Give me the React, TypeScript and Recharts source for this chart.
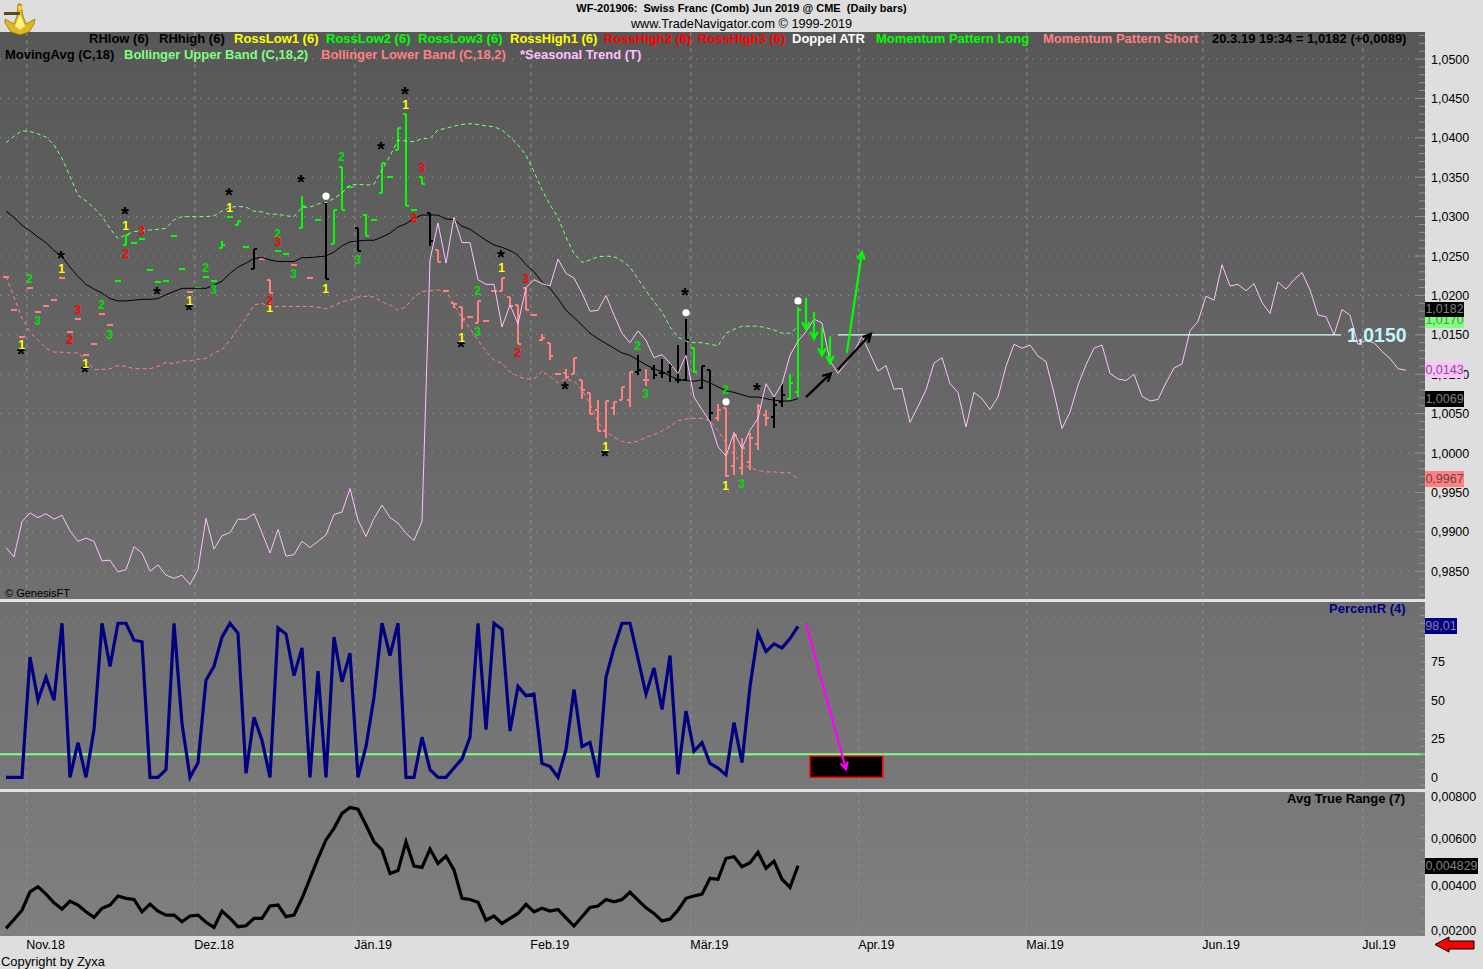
import React from 'react';
import {
  ComposedChart, Line, Bar, Scatter, XAxis, YAxis, CartesianGrid, ReferenceLine, ReferenceArea,
} from 'recharts';

const FONT = '"Liberation Sans", Arial, sans-serif';

const seasonal = [
  0.9880, 0.9868, 0.9913, 0.9924, 0.9918, 0.9923, 0.9916, 0.9921, 0.9901, 0.9888,
  0.9892, 0.9888, 0.9863, 0.9864, 0.9849, 0.9852, 0.9881, 0.9873, 0.9850, 0.9858,
  0.9845, 0.9841, 0.9845, 0.9833, 0.9852, 0.9917, 0.9878, 0.9895, 0.9899, 0.9916,
  0.9916, 0.9923, 0.9899, 0.9873, 0.9903, 0.9869, 0.9871, 0.9888, 0.9880, 0.9888,
  0.9896, 0.9922, 0.9925, 0.9955, 0.9915, 0.9894, 0.9917, 0.9934, 0.9918, 0.9911,
  0.9898, 0.9889, 0.9913, 1.0245, 1.0292, 1.0241, 1.0299, 1.0267, 1.0267, 1.0220,
  1.0214, 1.0214, 1.0160, 1.0188, 1.0164, 1.0210, 1.0220, 1.0215, 1.0212, 1.0246,
  1.0228, 1.0222, 1.0203, 1.0180, 1.0181, 1.0200, 1.0175, 1.0152, 1.0140, 1.0155,
  1.0143, 1.0121, 1.0125, 1.0114, 1.0101, 1.0124, 1.0071, 1.0055, 1.0040, 1.0008,
  0.9996, 1.0026, 1.0006, 1.0029, 1.0044, 1.0088, 1.0071, 1.0088, 1.0124, 1.0142,
  1.0154, 1.0170, 1.0165, 1.0117, 1.0101, 1.0114, 1.0129, 1.0148, 1.0126, 1.0104,
  1.0111, 1.0081, 1.0082, 1.0039, 1.0059, 1.0080, 1.0114, 1.0121, 1.0088, 1.0077,
  1.0033, 1.0077, 1.0069, 1.0055, 1.0071, 1.0110, 1.0138, 1.0133, 1.0137, 1.0123,
  1.0116, 1.0076, 1.0031, 1.0052, 1.0086, 1.0112, 1.0133, 1.0137, 1.0101, 1.0094,
  1.0092, 1.0100, 1.0072, 1.0066, 1.0068, 1.0089, 1.0108, 1.0113, 1.0155, 1.0167,
  1.0199, 1.0194, 1.0239, 1.0212, 1.0214, 1.0206, 1.0215, 1.0191, 1.0177, 1.0217,
  1.0208, 1.0220, 1.0229, 1.0207, 1.0175, 1.0173, 1.0150, 1.0182, 1.0175, 1.0138,
  1.0143, 1.0140, 1.0129, 1.0120, 1.0107, 1.0105,
];

const movingAvg = [
  1.0307, 1.0299, 1.0289, 1.0282, 1.0274, 1.0267, 1.0257, 1.0249, 1.0236, 1.0224,
  1.0214, 1.0208, 1.0203, 1.0196, 1.0193, 1.0193, 1.0194, 1.0195, 1.0195, 1.0196,
  1.0201, 1.0205, 1.0209, 1.0209, 1.0209, 1.0209, 1.0213, 1.0218, 1.0228, 1.0236,
  1.0241, 1.0247, 1.0248, 1.0245, 1.0243, 1.0243, 1.0243, 1.0248, 1.0248, 1.0249,
  1.0250, 1.0255, 1.0263, 1.0268, 1.0269, 1.0270, 1.0270, 1.0274, 1.0279, 1.0287,
  1.0291, 1.0298, 1.0302, 1.0302, 1.0302, 1.0297, 1.0296, 1.0288, 1.0284, 1.0277,
  1.0270, 1.0264, 1.0261, 1.0257, 1.0251, 1.0239, 1.0230, 1.0217, 1.0209, 1.0196,
  1.0181, 1.0172, 1.0162, 1.0152, 1.0145, 1.0139, 1.0133, 1.0127, 1.0124, 1.0118,
  1.0112, 1.0107, 1.0103, 1.0098, 1.0093, 1.0092, 1.0091, 1.0093, 1.0089, 1.0084,
  1.0079, 1.0077, 1.0074, 1.0071, 1.0071, 1.0069, 1.0067, 1.0066, 1.0066, 1.0069,
];

const upperBand = [
  1.0394, 1.0402, 1.0409, 1.0408, 1.0405, 1.0401, 1.0391, 1.0374, 1.0351, 1.0327,
  1.0320, 1.0311, 1.0300, 1.0285, 1.0272, 1.0277, 1.0281, 1.0282, 1.0283, 1.0284,
  1.0285, 1.0296, 1.0300, 1.0300, 1.0300, 1.0300, 1.0301, 1.0307, 1.0312, 1.0313,
  1.0312, 1.0307, 1.0306, 1.0303, 1.0303, 1.0301, 1.0300, 1.0312, 1.0312, 1.0316,
  1.0318, 1.0323, 1.0330, 1.0340, 1.0341, 1.0340, 1.0341, 1.0359, 1.0377, 1.0397,
  1.0396, 1.0395, 1.0399, 1.0399, 1.0410, 1.0412, 1.0415, 1.0417, 1.0418, 1.0417,
  1.0415, 1.0414, 1.0410, 1.0401, 1.0391, 1.0378, 1.0357, 1.0334, 1.0315, 1.0299,
  1.0274, 1.0253, 1.0242, 1.0245, 1.0249, 1.0250, 1.0249, 1.0244, 1.0236, 1.0221,
  1.0206, 1.0192, 1.0179, 1.0160, 1.0147, 1.0142, 1.0140, 1.0140, 1.0138, 1.0136,
  1.0152, 1.0157, 1.0161, 1.0161, 1.0161, 1.0159, 1.0156, 1.0152, 1.0152, 1.0160,
];

const lowerBand = [
  1.0224, 1.0198, 1.0171, 1.0154, 1.0143, 1.0133, 1.0128, 1.0128, 1.0127, 1.0127,
  1.0118, 1.0106, 1.0106, 1.0107, 1.0111, 1.0110, 1.0107, 1.0107, 1.0107, 1.0110,
  1.0115, 1.0113, 1.0117, 1.0117, 1.0119, 1.0120, 1.0127, 1.0131, 1.0143, 1.0158,
  1.0171, 1.0188, 1.0190, 1.0185, 1.0186, 1.0186, 1.0186, 1.0186, 1.0186, 1.0185,
  1.0183, 1.0187, 1.0192, 1.0194, 1.0198, 1.0199, 1.0198, 1.0192, 1.0188, 1.0181,
  1.0186, 1.0198, 1.0205, 1.0206, 1.0207, 1.0206, 1.0188, 1.0171, 1.0158, 1.0143,
  1.0129, 1.0118, 1.0114, 1.0103, 1.0097, 1.0094, 1.0094, 1.0104, 1.0097, 1.0089,
  1.0094, 1.0091, 1.0080, 1.0063, 1.0039, 1.0027, 1.0020, 1.0015, 1.0013, 1.0015,
  1.0020, 1.0023, 1.0028, 1.0034, 1.0041, 1.0043, 1.0044, 1.0044, 1.0041, 1.0028,
  1.0013, 0.9997, 0.9987, 0.9981, 0.9978, 0.9976, 0.9976, 0.9975, 0.9975, 0.9967,
];

const barOpen = [
  1.0224, 1.0181, 1.0147, 1.0209, 1.0179, 1.0187, 1.0194, 1.0222, 1.0154, 1.0170,
  1.0124, 1.0138, 1.0176, 1.0162, 1.0218, 1.0264, 1.0266, 1.0271, 1.0232, 1.0217,
  1.0218, 1.0276, 1.0234, 1.0204, 1.0210, 1.0223, 1.0218, 1.0260, 1.0299, 1.0290,
  1.0262, 1.0234, 1.0246, 1.0219, 1.0257, 1.0253, 1.0239, 1.0285, 1.0222, 1.0296,
  1.0317, 1.0265, 1.0363, 1.0337, 1.0285, 1.0302, 1.0296, 1.0330, 1.0350, 1.0385,
  1.0430, 1.0308, 1.0350, 1.0304, 1.0258, 1.0206, 1.0190, 1.0185, 1.0172, 1.0165,
  1.0168, 1.0206, 1.0205, 1.0198, 1.0188, 1.0209, 1.0175, 1.0143, 1.0140, 1.0100,
  1.0102, 1.0100, 1.0093, 1.0076, 1.0055, 1.0028, 1.0057, 1.0067, 1.0067, 1.0103,
  1.0093, 1.0107, 1.0101, 1.0103, 1.0093, 1.0093, 1.0133, 1.0082, 1.0105, 1.0045,
  1.0057, 0.9984, 0.9981, 0.9988, 1.0011, 1.0048, 1.0046, 1.0065, 1.0069, 1.0078,
];

const barHigh = [
  1.0225, 1.0182, 1.0148, 1.0210, 1.0180, 1.0188, 1.0195, 1.0223, 1.0155, 1.0171,
  1.0125, 1.0139, 1.0177, 1.0163, 1.0219, 1.0277, 1.0267, 1.0272, 1.0233, 1.0218,
  1.0219, 1.0277, 1.0235, 1.0205, 1.0211, 1.0224, 1.0219, 1.0269, 1.0300, 1.0295,
  1.0263, 1.0259, 1.0247, 1.0219, 1.0258, 1.0254, 1.0240, 1.0326, 1.0223, 1.0297,
  1.0317, 1.0309, 1.0363, 1.0338, 1.0285, 1.0303, 1.0297, 1.0368, 1.0351, 1.0412,
  1.0430, 1.0309, 1.0350, 1.0304, 1.0258, 1.0207, 1.0190, 1.0185, 1.0173, 1.0193,
  1.0169, 1.0207, 1.0222, 1.0198, 1.0188, 1.0209, 1.0176, 1.0151, 1.0140, 1.0101,
  1.0106, 1.0121, 1.0093, 1.0076, 1.0067, 1.0066, 1.0065, 1.0084, 1.0103, 1.0124,
  1.0106, 1.0112, 1.0119, 1.0113, 1.0137, 1.0170, 1.0133, 1.0111, 1.0105, 1.0062,
  1.0057, 1.0023, 1.0019, 1.0026, 1.0062, 1.0055, 1.0071, 1.0088, 1.0100, 1.0185,
];

const barLow = [
  1.0222, 1.0180, 1.0146, 1.0208, 1.0178, 1.0186, 1.0193, 1.0221, 1.0153, 1.0169,
  1.0123, 1.0137, 1.0175, 1.0161, 1.0217, 1.0264, 1.0265, 1.0270, 1.0231, 1.0216,
  1.0217, 1.0275, 1.0233, 1.0203, 1.0209, 1.0222, 1.0217, 1.0260, 1.0298, 1.0290,
  1.0261, 1.0234, 1.0245, 1.0203, 1.0256, 1.0252, 1.0238, 1.0285, 1.0221, 1.0295,
  1.0221, 1.0265, 1.0309, 1.0336, 1.0257, 1.0276, 1.0295, 1.0330, 1.0349, 1.0385,
  1.0314, 1.0307, 1.0342, 1.0263, 1.0243, 1.0205, 1.0184, 1.0157, 1.0171, 1.0165,
  1.0167, 1.0205, 1.0205, 1.0186, 1.0138, 1.0182, 1.0174, 1.0142, 1.0118, 1.0099,
  1.0094, 1.0100, 1.0069, 1.0050, 1.0028, 1.0019, 1.0048, 1.0067, 1.0059, 1.0099,
  1.0085, 1.0094, 1.0095, 1.0090, 1.0089, 1.0091, 1.0102, 1.0081, 1.0041, 1.0041,
  0.9969, 0.9972, 0.9972, 0.9978, 1.0004, 1.0034, 1.0032, 1.0059, 1.0068, 1.0071,
];

const barClose = [
  1.0224, 1.0181, 1.0147, 1.0209, 1.0179, 1.0187, 1.0194, 1.0222, 1.0154, 1.0170,
  1.0124, 1.0138, 1.0176, 1.0162, 1.0218, 1.0277, 1.0266, 1.0271, 1.0232, 1.0217,
  1.0218, 1.0276, 1.0234, 1.0204, 1.0210, 1.0223, 1.0218, 1.0264, 1.0299, 1.0295,
  1.0262, 1.0259, 1.0246, 1.0203, 1.0257, 1.0253, 1.0239, 1.0313, 1.0222, 1.0296,
  1.0221, 1.0309, 1.0309, 1.0337, 1.0257, 1.0276, 1.0296, 1.0368, 1.0350, 1.0412,
  1.0314, 1.0308, 1.0342, 1.0269, 1.0243, 1.0206, 1.0189, 1.0170, 1.0172, 1.0193,
  1.0168, 1.0206, 1.0222, 1.0186, 1.0138, 1.0182, 1.0175, 1.0146, 1.0123, 1.0100,
  1.0096, 1.0121, 1.0080, 1.0050, 1.0028, 1.0066, 1.0065, 1.0084, 1.0103, 1.0105,
  1.0093, 1.0099, 1.0102, 1.0110, 1.0093, 1.0143, 1.0103, 1.0111, 1.0051, 1.0054,
  0.9971, 1.0023, 1.0006, 1.0019, 1.0060, 1.0044, 1.0061, 1.0074, 1.0089, 1.0182,
];

// s = Momentum Pattern Short, l = Momentum Pattern Long, n = neither
const barPattern = (
  'ssssssssssssss' + 'lllllllll' + 's' + 'lllllll' + 'nss' + 'll' + 'slsl' + 'n' + 'lll' + 'n' +
  'llllllll' + 'n' + 'sssssssssssssssssssssssss' + 'n' + 's' + 'nnnnn' + 'l' + 'nn' + 'sssssss' + 'nn' + 'll'
).split('');

const percentR = [
  0, 0, 0, 78, 50, 65, 50, 100, 0, 22.5,
  0, 31, 100, 72, 100, 100, 89, 88, 0, 0,
  5, 100, 35, 0, 9.5, 63, 72, 91, 100, 93.5,
  2.6, 39, 24, 0, 97, 93, 66, 84, 0, 69,
  0, 91, 62, 80.5, 0, 20, 52, 100, 79, 100,
  0, 0, 26, 5, 0, 0, 6, 12, 26, 100,
  31, 100, 96, 30, 59, 53, 54, 9, 7, 0,
  18, 57, 20, 22.5, 0, 65, 84, 100, 100, 77,
  54, 71, 44, 79, 2, 43, 17, 22.5, 9, 6,
  1.5, 35.5, 9.5, 59, 93.5, 81.6, 86.6, 84, 90, 98.01,
];

const avgTrueRange = [
  0.00214, 0.00252, 0.00292, 0.00371, 0.00393, 0.00361, 0.00324, 0.00297, 0.00331, 0.00314,
  0.00285, 0.00261, 0.00300, 0.00314, 0.00353, 0.00343, 0.00338, 0.00285, 0.00318, 0.00288,
  0.00271, 0.00271, 0.00242, 0.00267, 0.00271, 0.00240, 0.00218, 0.00288, 0.00257, 0.00221,
  0.00225, 0.00257, 0.00257, 0.00310, 0.00314, 0.00264, 0.00271, 0.00343, 0.00429, 0.00515,
  0.00594, 0.00644, 0.00708, 0.00734, 0.00726, 0.00658, 0.00586, 0.00551, 0.00450, 0.00462,
  0.00586, 0.00482, 0.00476, 0.00555, 0.00493, 0.00525, 0.00465, 0.00343, 0.00338, 0.00326,
  0.00249, 0.00267, 0.00235, 0.00257, 0.00278, 0.00317, 0.00285, 0.00300, 0.00288, 0.00295,
  0.00259, 0.00224, 0.00264, 0.00304, 0.00310, 0.00338, 0.00328, 0.00338, 0.00369, 0.00335,
  0.00302, 0.00278, 0.00246, 0.00254, 0.00292, 0.00343, 0.00353, 0.00361, 0.00429, 0.00425,
  0.00515, 0.00522, 0.00479, 0.00496, 0.00541, 0.00472, 0.00503, 0.00425, 0.00390, 0.004829,
];

const starMarks = [
  { i: 15, v: 1.0307 }, { i: 7, v: 1.0251 }, { i: 19, v: 1.0205 }, { i: 23, v: 1.0185 },
  { i: 28, v: 1.0330 }, { i: 37, v: 1.0347 }, { i: 47, v: 1.0389 }, { i: 50, v: 1.0459 },
  { i: 2, v: 1.0129 }, { i: 10, v: 1.0106 }, { i: 62, v: 1.0252 }, { i: 57, v: 1.0138 },
  { i: 70, v: 1.0085 }, { i: 75, v: 1.0000 }, { i: 85, v: 1.0204 }, { i: 94, v: 1.0083 },
];
const rossLow1 = [
  { i: 15, v: 1.0289 }, { i: 7, v: 1.0234 }, { i: 23, v: 1.0193 }, { i: 28, v: 1.0312 },
  { i: 40, v: 1.0209 }, { i: 50, v: 1.0442 }, { i: 2, v: 1.0138 }, { i: 10, v: 1.0114 },
  { i: 33, v: 1.0185 }, { i: 62, v: 1.0235 }, { i: 57, v: 1.0146 }, { i: 75, v: 1.0008 },
  { i: 90, v: 0.9959 },
];
const rossLow2 = [
  { i: 3, v: 1.0221 }, { i: 12, v: 1.0188 }, { i: 25, v: 1.0235 }, { i: 34, v: 1.0278 },
  { i: 42, v: 1.0376 }, { i: 59, v: 1.0206 }, { i: 79, v: 1.0136 }, { i: 90, v: 1.0081 },
];
const rossLow3 = [
  { i: 4, v: 1.0168 }, { i: 13, v: 1.0151 }, { i: 26, v: 1.0207 }, { i: 36, v: 1.0228 },
  { i: 44, v: 1.0246 }, { i: 59, v: 1.0154 }, { i: 80, v: 1.0075 }, { i: 92, v: 0.9961 },
];
const rossHigh2 = [
  { i: 15, v: 1.0253 }, { i: 8, v: 1.0144 }, { i: 33, v: 1.0194 }, { i: 51, v: 1.0299 }, { i: 64, v: 1.0127 },
];
const rossHigh3 = [
  { i: 17, v: 1.0282 }, { i: 9, v: 1.0182 }, { i: 34, v: 1.0268 }, { i: 52, v: 1.0362 }, { i: 65, v: 1.0221 },
];
const doppelAtr = [
  { i: 40, v: 1.0326 }, { i: 85, v: 1.0178 }, { i: 90, v: 1.0065 }, { i: 99, v: 1.0193 },
];

const priceLevel = [{ x: 104, y: 1.015 }, { x: 166.9, y: 1.015 }];
const greenUpArrow = [{ x: 105.1, y: 1.0127 }, { x: 107, y: 1.0255 }];
const blackArrows = [
  [{ x: 100, y: 1.0071 }, { x: 103.1, y: 1.0101 }],
  [{ x: 104, y: 1.0106 }, { x: 108.1, y: 1.0151 }],
];
const greenDownArrows = [
  [{ x: 100, y: 1.0197 }, { x: 100, y: 1.0157 }],
  [{ x: 101, y: 1.0179 }, { x: 101, y: 1.0145 }],
  [{ x: 102, y: 1.016 }, { x: 102, y: 1.0124 }],
  [{ x: 103, y: 1.0148 }, { x: 103, y: 1.0114 }],
];
const magentaArrow = [{ x: 100, y: 100 }, { x: 105, y: 5.2 }];
const targetBox = { x1: 100.5, x2: 109.6, y1: 0, y2: 13.8 };
const percentRTrigger = 15;

const monthTicks = [2.6, 23.6, 43.6, 65.6, 85.6, 106.6, 127.6, 149.6, 169.6];
const monthLabels = ['Nov.18', 'Dez.18', 'Jän.19', 'Feb.19', 'Mär.19', 'Apr.19', 'Mai.19', 'Jun.19', 'Jul.19'];

const priceMajor = [1.05, 1.045, 1.04, 1.035, 1.03, 1.025, 1.02, 1.015, 1.01, 1.005, 1.0, 0.995, 0.99, 0.985];
const priceMinor = [
  1.053, 1.052, 1.051, 1.049, 1.048, 1.047, 1.046, 1.044, 1.043, 1.042, 1.041, 1.039, 1.038, 1.037, 1.036,
  1.034, 1.033, 1.032, 1.031, 1.029, 1.028, 1.027, 1.026, 1.024, 1.023, 1.022, 1.021, 1.019, 1.018, 1.017, 1.016,
  1.014, 1.013, 1.012, 1.011, 1.009, 1.008, 1.007, 1.006, 1.004, 1.003, 1.002, 1.001, 0.999, 0.998, 0.997, 0.996,
  0.994, 0.993, 0.992, 0.991, 0.989, 0.988, 0.987, 0.986, 0.984, 0.983, 0.982,
];
const pctMajor = [100, 75, 50, 25, 0];
const pctLabels = [75, 50, 25, 0];
const pctMinor = [110, 105, 95, 90, 85, 80, 70, 65, 60, 55, 45, 40, 35, 30, 20, 15, 10, 5, -5];
const atrMajor = [0.008, 0.006, 0.004, 0.002];
const atrMinor = [0.0075, 0.007, 0.0065, 0.0055, 0.005, 0.0045, 0.0035, 0.003, 0.0025];

const legendRow1 = [
  { text: 'RHlow (6)', left: 89, color: '#000000' },
  { text: 'RHhigh (6)', left: 159, color: '#000000' },
  { text: 'RossLow1 (6)', left: 234, color: '#ffff00' },
  { text: 'RossLow2 (6)', left: 326, color: '#00ff00' },
  { text: 'RossLow3 (6)', left: 418, color: '#00ff00' },
  { text: 'RossHigh1 (6)', left: 510, color: '#ffff00' },
  { text: 'RossHigh2 (6)', left: 604, color: '#ff0000' },
  { text: 'RossHigh3 (6)', left: 698, color: '#ff0000' },
  { text: 'Doppel ATR', left: 792, color: '#ffffff' },
  { text: 'Momentum Pattern Long', left: 876, color: '#00ff00' },
  { text: 'Momentum Pattern Short', left: 1043, color: '#ff8080' },
  { text: '20.3.19 19:34 = 1,0182 (+0,0089)', left: 1212, color: '#000000' },
];
const legendRow2 = [
  { text: 'MovingAvg (C,18)', left: 5, color: '#000000' },
  { text: 'Bollinger Upper Band (C,18,2)', left: 124, color: '#80ff80' },
  { text: 'Bollinger Lower Band (C,18,2)', left: 321, color: '#ff8080' },
  { text: '*Seasonal Trend (T)', left: 520, color: '#ffc0ff' },
];
const valueTags = [
  { text: '1,0170', top: 313, h: 15, w: 39, bg: '#80ff80', fg: '#509050' },
  { text: '1,0182', top: 302, h: 15, w: 39, bg: '#000000', fg: '#808080' },
  { text: '0,0143', top: 362, h: 16, w: 39, bg: '#ffc0ff', fg: '#706070' },
  { text: '1,0069', top: 391, h: 16, w: 39, bg: '#000000', fg: '#808080' },
  { text: '0,9967', top: 471, h: 16, w: 39, bg: '#ff8080', fg: '#704040' },
  { text: '98,01', top: 618, h: 16, w: 32, bg: '#000080', fg: '#8080a8' },
  { text: '0,004829', top: 858, h: 16, w: 53, bg: '#000000', fg: '#808080' },
];

const rows = seasonal.map((s, i) => ({
  i,
  seasonal: s,
  ma: movingAvg[i],
  upper: upperBand[i],
  lower: lowerBand[i],
  open: barOpen[i],
  close: barClose[i],
  high: barHigh[i],
  low: barLow[i],
  range: i < barHigh.length ? [barLow[i], barHigh[i]] : undefined,
  pattern: barPattern[i],
  pct: percentR[i],
  atr: avgTrueRange[i],
}));

const X_DOMAIN: [number, number] = [-0.75, 177.375];
const PATTERN_COLOR: Record<string, string> = { s: '#ff8080', l: '#00ff00', n: '#000000' };
const CHART_W = 1483;
const AXIS_W = 58;

function OhlcShape(props: any) {
  const { x, y, width, height, payload } = props;
  if (!payload || !payload.range || !Number.isFinite(y)) return null;
  const cx = Math.round(x + width / 2);
  const k = height / (payload.high - payload.low);
  const py = (v: number) => y + (payload.high - v) * k;
  const color = PATTERN_COLOR[payload.pattern];
  return (
    <g stroke={color} strokeWidth={2} fill="none" shapeRendering="crispEdges">
      <line x1={cx} x2={cx} y1={y} y2={y + height} />
      <line x1={cx - 3} x2={cx} y1={py(payload.open)} y2={py(payload.open)} />
      <line x1={cx} x2={cx + 3} y1={py(payload.close)} y2={py(payload.close)} />
    </g>
  );
}

const glyph = (text: string, color: string) => (p: any) => (
  <text x={p.cx - 0.5} y={p.cy + 4.5} textAnchor="middle" fontFamily={FONT} fontSize={12} fontWeight="bold" fill={color}>{text}</text>
);
const StarGlyph = (p: any) => (
  <text x={p.cx - 1} y={p.cy + 9.5} textAnchor="middle" fontFamily={FONT} fontSize={20} fontWeight="bold" fill="#000000">*</text>
);
const DotGlyph = (p: any) => <circle cx={p.cx} cy={p.cy} r={3.6} fill="#ffffff" />;

const arrowShape = (color: string, w: number, head: number) => (p: any) => {
  const { x1, y1, x2, y2 } = p;
  const a = Math.atan2(y2 - y1, x2 - x1);
  const ax = x2 - head * Math.cos(a - 0.48);
  const ay = y2 - head * Math.sin(a - 0.48);
  const bx = x2 - head * Math.cos(a + 0.48);
  const by = y2 - head * Math.sin(a + 0.48);
  return (
    <g stroke={color} strokeWidth={w} fill="none">
      <line x1={x1} y1={y1} x2={x2} y2={y2} />
      <polyline points={`${ax},${ay} ${x2},${y2} ${bx},${by}`} strokeLinejoin="miter" />
    </g>
  );
};

const axisTick = (tickMajors: number[], labelled: number[], format: (v: number) => string, dy: (v: number) => number = () => 0, major = 10, minor = 6) => (p: any) => {
  const { x, y, payload } = p;
  const isMajor = tickMajors.includes(payload.value);
  return (
    <g>
      <line x1={x - (isMajor ? major : minor)} x2={x} y1={y} y2={y} stroke="#929292" strokeWidth={1} />
      {labelled.includes(payload.value) ? (
        <text x={x + 6} y={y + 4.5 + dy(payload.value)} fontFamily={FONT} fontSize={12.5} fill="#000000">{format(payload.value)}</text>
      ) : null}
    </g>
  );
};

const monthTick = (p: any) => {
  const idx = monthTicks.indexOf(p.payload.value);
  return (
    <text x={p.x - 0.5} y={p.y + 12.5} fontFamily={FONT} fontSize={12.5} fill="#000000">{monthLabels[idx]}</text>
  );
};

const comma = (digits: number) => (v: number) => v.toFixed(digits).replace('.', ',');

function PriceChart() {
  return (
    <ComposedChart width={CHART_W} height={566} data={rows} margin={{ top: 0, right: 0, bottom: 0, left: 0 }}>
      <XAxis dataKey="i" type="number" domain={X_DOMAIN} hide />
      <YAxis
        orientation="right" type="number" width={AXIS_W} domain={[0.9816, 1.05343]} allowDataOverflow
        ticks={[...priceMajor, ...priceMinor]} interval={0} tickSize={0} tickMargin={0} axisLine={false} tickLine={false}
        tick={axisTick(priceMajor, priceMajor, comma(4))}
      />
      <CartesianGrid horizontal vertical={false} horizontalValues={priceMajor} stroke="#999999" strokeDasharray="1 7" />
      <CartesianGrid horizontal={false} vertical verticalValues={monthTicks} stroke="#8f8f8f" strokeDasharray="4 4" />
      <Bar dataKey="range" barSize={7} shape={OhlcShape} isAnimationActive={false} />
      <Line dataKey="upper" stroke="#80ff80" strokeWidth={1} strokeDasharray="4 3" dot={false} isAnimationActive={false} />
      <Line dataKey="lower" stroke="#ff8080" strokeWidth={1} strokeDasharray="4 3" dot={false} isAnimationActive={false} />
      <Line dataKey="ma" stroke="#000000" strokeWidth={1} dot={false} isAnimationActive={false} />
      <Line dataKey="seasonal" stroke="#ffc0ff" strokeWidth={1} dot={false} isAnimationActive={false} />
      <Scatter data={starMarks} dataKey="v" shape={StarGlyph} isAnimationActive={false} />
      <Scatter data={rossLow1} dataKey="v" shape={glyph('1', '#ffff00')} isAnimationActive={false} />
      <Scatter data={rossLow2} dataKey="v" shape={glyph('2', '#00e000')} isAnimationActive={false} />
      <Scatter data={rossLow3} dataKey="v" shape={glyph('3', '#00e000')} isAnimationActive={false} />
      <Scatter data={rossHigh2} dataKey="v" shape={glyph('2', '#ff0000')} isAnimationActive={false} />
      <Scatter data={rossHigh3} dataKey="v" shape={glyph('3', '#ff0000')} isAnimationActive={false} />
      <Scatter data={doppelAtr} dataKey="v" shape={DotGlyph} isAnimationActive={false} />
      <ReferenceLine segment={priceLevel} stroke="#d0ffff" strokeWidth={1.2} />
      <ReferenceLine segment={greenUpArrow} shape={arrowShape('#00ff00', 2.2, 8)} />
      {blackArrows.map((seg, k) => (
        <ReferenceLine key={k} segment={seg} shape={arrowShape('#000000', 2.4, 9)} />
      ))}
      {greenDownArrows.map((seg, k) => (
        <ReferenceLine key={k} segment={seg} shape={arrowShape('#00ff00', 2.2, 8)} />
      ))}
    </ComposedChart>
  );
}

function PercentChart() {
  return (
    <ComposedChart width={CHART_W} height={187} data={rows} margin={{ top: 0, right: 0, bottom: 0, left: 0 }}>
      <XAxis dataKey="i" type="number" domain={X_DOMAIN} hide />
      <YAxis
        orientation="right" type="number" width={AXIS_W} domain={[-7.6, 113.8]} allowDataOverflow
        ticks={[...pctMajor, ...pctMinor]} interval={0} tickSize={0} tickMargin={0} axisLine={false} tickLine={false}
        tick={axisTick(pctMajor, pctLabels, (v) => String(v), () => 0, 5, 5)}
      />
      <CartesianGrid horizontal vertical={false} horizontalValues={pctMajor} stroke="#8c8c8c" strokeDasharray="1 7" />
      <CartesianGrid horizontal={false} vertical verticalValues={monthTicks} stroke="#8a8a8a" strokeDasharray="4 4" />
      <ReferenceLine y={percentRTrigger} stroke="#80ff80" strokeWidth={2} />
      <Line dataKey="pct" stroke="#000080" strokeWidth={3.2} dot={false} strokeLinejoin="miter" isAnimationActive={false} />
      <ReferenceArea {...targetBox} fill="#000000" fillOpacity={1} stroke="#ff0000" strokeWidth={1.5} />
      <ReferenceLine segment={magentaArrow} shape={arrowShape('#ff00ff', 2.2, 8)} />
    </ComposedChart>
  );
}

function AtrChart() {
  return (
    <ComposedChart width={CHART_W} height={184} data={rows} margin={{ top: 10, right: 0, bottom: 0, left: 0 }}>
      <XAxis
        dataKey="i" type="number" domain={X_DOMAIN} ticks={monthTicks} interval={0} height={30}
        axisLine={false} tickLine={false} tickSize={0} tickMargin={0} tick={monthTick}
      />
      <YAxis
        orientation="right" type="number" width={AXIS_W} domain={[0.00181, 0.008]} allowDataOverflow
        ticks={[...atrMajor, ...atrMinor]} interval={0} tickSize={0} tickMargin={0} axisLine={false} tickLine={false}
        tick={axisTick(atrMajor, atrMajor, comma(5), (v) => (v === 0.008 ? 4 : v === 0.002 ? -1.5 : 0), 5, 5)}
      />
      <CartesianGrid horizontal vertical={false} horizontalValues={atrMajor} stroke="#909090" strokeDasharray="1 7" />
      <CartesianGrid horizontal={false} vertical verticalValues={monthTicks} stroke="#8e8e8e" strokeDasharray="4 4" />
      <Line dataKey="atr" stroke="#000000" strokeWidth={3.2} dot={false} isAnimationActive={false} />
    </ComposedChart>
  );
}

const abs = (left: number, top: number): React.CSSProperties => ({ position: 'absolute', left, top, whiteSpace: 'pre', fontFamily: FONT });

function Logo() {
  return (
    <svg width={36} height={34} style={{ position: 'absolute', left: 2, top: 2 }}>
      <polygon points="16,2 19,2 20,8 21,14 24,22 33,17 32,22 27,30 18,33 9,30 3,21 3,17 12,22 15,14" fill="#e0b820" stroke="#8a6a08" strokeWidth={0.7} />
      <rect x={2} y={10} width={16} height={3} fill="#5a4a20" />
      <polygon points="18,12 23,24 18,28 13,24" fill="#fff080" />
      <circle cx={18} cy={6} r={2} fill="#f5d840" />
    </svg>
  );
}

export default function App() {
  return (
    <div style={{ position: 'absolute', left: 0, top: 0, width: 1483, height: 969, background: '#dedede', overflow: 'hidden' }}>
      <div style={{ position: 'absolute', left: 0, top: 32, width: 1425, height: 904, background: 'linear-gradient(#575757, #6f6f6f 62.5%, #7f7f7f)' }} />
      <div style={{ position: 'absolute', left: 0, top: 32 }}><PriceChart /></div>
      <div style={{ position: 'absolute', left: 0, top: 602 }}><PercentChart /></div>
      <div style={{ position: 'absolute', left: 0, top: 782 }}><AtrChart /></div>
      <div style={{ position: 'absolute', left: 0, top: 599, width: 1425, height: 3, background: '#e2e2e2' }} />
      <div style={{ position: 'absolute', left: 0, top: 789, width: 1425, height: 3, background: '#e2e2e2' }} />

      <Logo />
      <div style={{ ...abs(0, 2), width: 1483, textAlign: 'center', fontSize: 11, fontWeight: 'bold', color: '#000' }}>
        {'WF-201906:  Swiss Franc (Comb) Jun 2019 @ CME  (Daily bars)'}
      </div>
      <div style={{ ...abs(0, 17), width: 1483, textAlign: 'center', fontSize: 12.7, color: '#000' }}>
        {'www.TradeNavigator.com © 1999-2019'}
      </div>

      {legendRow1.map((l) => (
        <div key={l.text} style={{ ...abs(l.left, 31), fontSize: 13, fontWeight: 'bold', color: l.color }}>{l.text}</div>
      ))}
      {legendRow2.map((l) => (
        <div key={l.text} style={{ ...abs(l.left, 47), fontSize: 13, fontWeight: 'bold', color: l.color }}>{l.text}</div>
      ))}

      <div style={{ ...abs(1347, 324), fontSize: 19.5, fontWeight: 'bold', color: '#c0f4ff' }}>1,0150</div>
      <div style={{ ...abs(5, 587), fontSize: 11, color: '#000' }}>© GenesisFT</div>
      <div style={{ ...abs(1329, 601), fontSize: 13, fontWeight: 'bold', color: '#000080' }}>PercentR (4)</div>
      <div style={{ ...abs(1287, 791), fontSize: 13, fontWeight: 'bold', color: '#000' }}>Avg True Range (7)</div>
      <div style={{ ...abs(1, 954), fontSize: 12.9, color: '#000' }}>Copyright by Zyxa</div>

      {valueTags.map((t) => (
        <div key={t.text} style={{ ...abs(1425, t.top), width: t.w, height: t.h, lineHeight: `${t.h}px`, background: t.bg, color: t.fg, fontSize: 12.5, textAlign: 'center' }}>{t.text}</div>
      ))}

      <svg width={44} height={20} style={{ position: 'absolute', left: 1433, top: 935 }}>
        <polygon points="2,9.5 16,2 16,6 41,6 41,14 16,14 16,17" fill="#ff0000" stroke="#000000" strokeWidth={1} />
      </svg>
    </div>
  );
}
